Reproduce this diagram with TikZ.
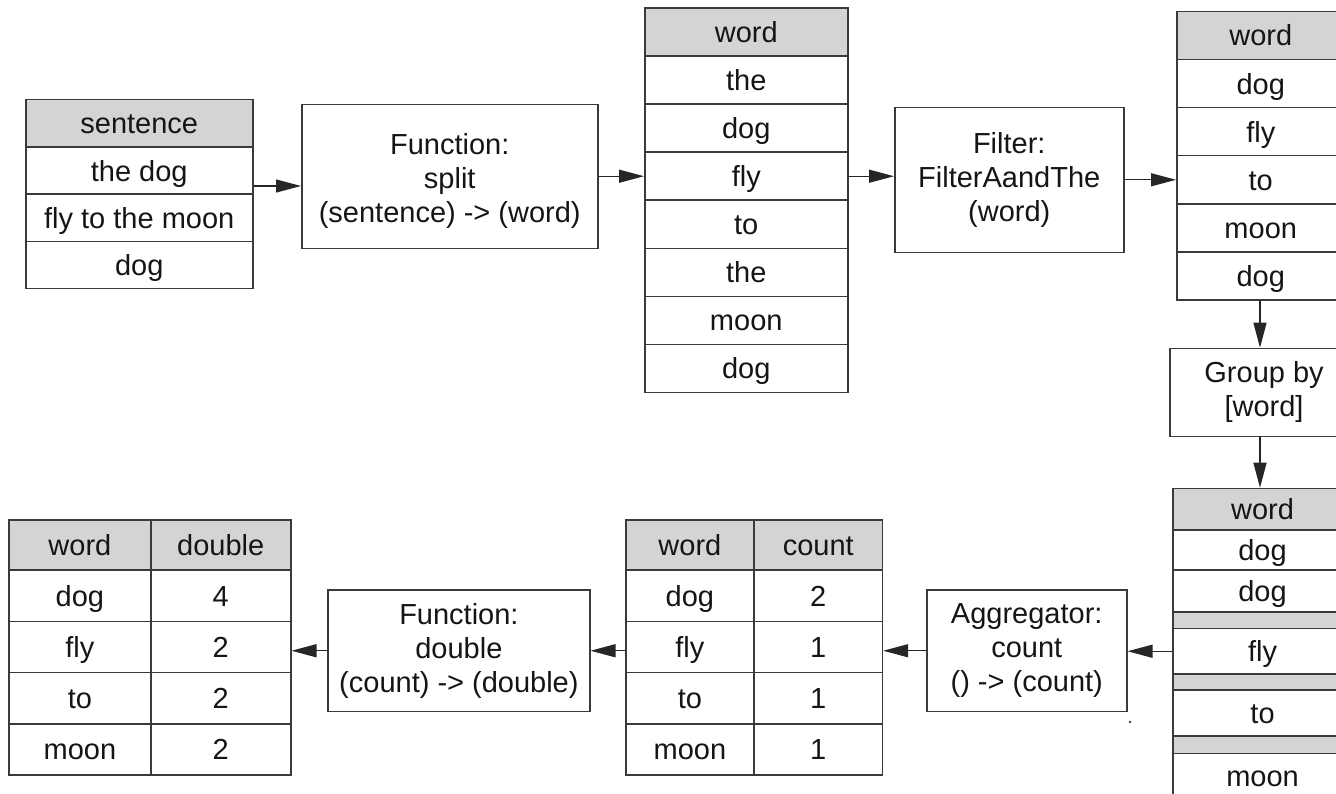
\documentclass[tikz,border=0pt]{standalone}
\usepackage{fontspec}
\setmainfont{Liberation Sans}
\usetikzlibrary{arrows.meta}
\definecolor{linecol}{HTML}{3A3A3A}
\definecolor{hdrfill}{HTML}{D4D4D4}
\definecolor{txtcol}{HTML}{151515}
\begin{document}
\begin{tikzpicture}[x=1pt,y=-1pt,
  every node/.style={font=\fontsize{29}{34}\selectfont, text=txtcol},
  cell/.style={draw=linecol, line width=1.5pt, rectangle, inner sep=0pt,
    anchor=north west, text height=24pt, text depth=3pt, align=center},
  hdr/.style={cell, fill=hdrfill},
  band/.style={cell, fill=hdrfill, text height=0pt, text depth=0pt},
  opbox/.style={draw=linecol, line width=1.5pt, rectangle, inner sep=0pt,
    anchor=north west, align=center},
  cellsize/.style 2 args={minimum width=#1pt, minimum height=#2pt},
  flow/.style={draw=black!85, line width=1.3pt,
    -{Triangle[length=25pt,width=13pt]}}
]
\useasboundingbox (0,0) rectangle (1336,794);
\clip (0,0) rectangle (1336,794);

% input sentences
\node[hdr,  cellsize={227}{47.25}] (t1h)  at (25,99)     {sentence};
\node[cell, cellsize={227}{47.25}] (t1r1) at (25,146.25) {the dog};
\node[cell, cellsize={227}{47.25}] (t1r2) at (25,193.5)  {fly to the moon};
\node[cell, cellsize={227}{47.25}] (t1r3) at (25,240.75) {dog};

% split function (label set a little below the box centre)
\node[opbox, cellsize={296}{144}] (f1) at (301,104) {};
\node[align=center, inner sep=0pt] (f1t) at ([yshift=-4pt]f1.center)
  {Function:\\split\\(sentence) -> (word)};

% words after split
\node[hdr, cellsize={203}{48.05}] (t2h) at (644,7.3) {word};
\foreach \w [count=\i] in {the,dog,fly,to,the,moon,dog}
  \node[cell, cellsize={203}{48.05}] (t2r\i) at (644,{7.3+48.05*\i}) {\w};

% filter
\node[opbox, cellsize={229}{145}] (f2) at (894,107)
  {Filter:\\FilterAandThe\\(word)};

% filtered words
\node[hdr, cellsize={168}{48.1}] (t3h) at (1176,10.7) {word};
\foreach \w [count=\i] in {dog,fly,to,moon,dog}
  \node[cell, cellsize={168}{48.1}] (t3r\i) at (1176,{10.7+48.1*\i}) {\w};

% group by
\node[opbox, cellsize={188}{88}] (g) at (1169.3,347.7) {Group by\\{[word]}};

% grouped words
\node[hdr,  cellsize={179}{41.6}] (t4h)  at (1172.3,487.7) {word};
\node[cell, cellsize={179}{40}]   (t4a)  at (1172.3,529.3) {dog};
\node[cell, cellsize={179}{41.7}] (t4b)  at (1172.3,569.3) {dog};
\node[band, cellsize={179}{16.7}] (t4s1) at (1172.3,611)   {};
\node[cell, cellsize={179}{45.6}] (t4c)  at (1172.3,627.7) {fly};
\node[band, cellsize={179}{16}]   (t4s2) at (1172.3,673.3) {};
\node[cell, cellsize={179}{45.7}] (t4d)  at (1172.3,689.3) {to};
\node[band, cellsize={179}{17.7}] (t4s3) at (1172.3,735)   {};
\node[cell, cellsize={179}{46}]   (t4e)  at (1172.3,752.7) {moon};

% aggregator
\node[opbox, cellsize={200}{121.4}] (agg) at (926,589.3)
  {Aggregator:\\count\\() -> (count)};

% counted words
\node[hdr, cellsize={128.3}{50}] (t5ha) at (625,519.3)   {word};
\node[hdr, cellsize={128.4}{50}] (t5hb) at (753.3,519.3) {count};
\foreach \w/\n [count=\i] in {dog/2,fly/1,to/1,moon/1} {
  \node[cell, cellsize={128.3}{51.25}] (t5a\i) at (625,{569.3+51.25*(\i-1)})   {\w};
  \node[cell, cellsize={128.4}{51.25}] (t5b\i) at (753.3,{569.3+51.25*(\i-1)}) {\n};
}

% double function
\node[opbox, cellsize={261.7}{121.4}] (f3) at (327.3,589.3)
  {Function:\\double\\(count) -> (double)};

% doubled counts
\node[hdr, cellsize={141.7}{50}] (t6ha) at (8.3,519.3) {word};
\node[hdr, cellsize={140}{50}]   (t6hb) at (150,519.3) {double};
\foreach \w/\n [count=\i] in {dog/4,fly/2,to/2,moon/2} {
  \node[cell, cellsize={141.7}{51.25}] (t6a\i) at (8.3,{569.3+51.25*(\i-1)}) {\w};
  \node[cell, cellsize={140}{51.25}]   (t6b\i) at (150,{569.3+51.25*(\i-1)}) {\n};
}

% connectors
\coordinate (ya) at (0,186);
\coordinate (xg) at (1260,0);
\draw[flow] (t1r1.east |- ya) -- (f1.west |- ya);
\draw[flow] (f1.east |- t2r3.west) -- (t2r3.west);
\draw[flow] (t2r3.east) -- (f2.west |- t2r3.east);
\draw[flow] (f2.east |- t3r3.west) -- (t3r3.west);
\draw[flow] (t3r5.south -| xg) -- (g.north -| xg);
\draw[flow] (g.south -| xg) -- (t4h.north -| xg);
\draw[flow] (t4c.west) -- (agg.east |- t4c.west);
\draw[flow] (agg.west) -- (t5b2.east |- agg.west);
\draw[flow] (t5a2.west |- f3.east) -- (f3.east);
\draw[flow] (f3.west) -- (t6b2.east |- f3.west);

% small stray mark below the aggregator
\fill[linecol] (1130,722) circle (1.3pt);
\end{tikzpicture}
\end{document}
